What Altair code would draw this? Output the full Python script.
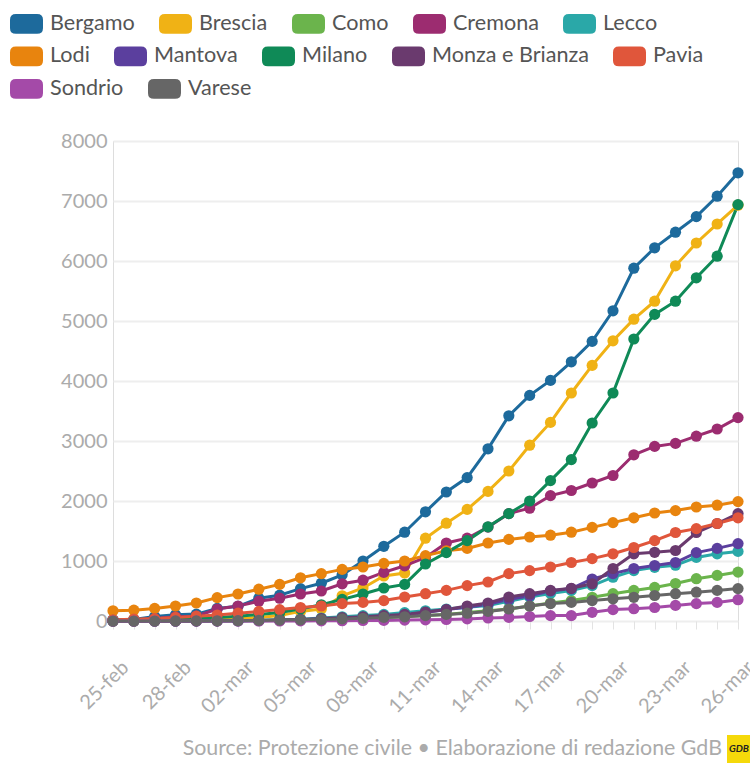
import altair as alt
import pandas as pd

dates = ["25-feb", "26-feb", "27-feb", "28-feb", "29-feb",
         "01-mar", "02-mar", "03-mar", "04-mar", "05-mar", "06-mar", "07-mar",
         "08-mar", "09-mar", "10-mar", "11-mar", "12-mar", "13-mar", "14-mar",
         "15-mar", "16-mar", "17-mar", "18-mar", "19-mar", "20-mar", "21-mar",
         "22-mar", "23-mar", "24-mar", "25-mar", "26-mar"]
shown_labels = ["25-feb", "28-feb", "02-mar", "05-mar", "08-mar", "11-mar",
                "14-mar", "17-mar", "20-mar", "23-mar", "26-mar"]

provinces = ["Bergamo", "Brescia", "Como", "Cremona", "Lecco", "Lodi", "Mantova",
             "Milano", "Monza e Brianza", "Pavia", "Sondrio", "Varese"]
colors = ["#1d6a9c", "#f0b215", "#6bb44c", "#9c2c70", "#2aa8a8", "#e8840e",
          "#5b3f9e", "#0f8a57", "#6a3a6e", "#e0563b", "#a44aa8", "#666666"]
# legend rows as in the reference (flow layout, 5 + 5 + 2)
legend_rows = [provinces[0:5], provinces[5:10], provinces[10:12]]

bergamo = [20, 25, 75, 105, 115, 210, 245, 380, 430, 540, 630, 770, 1000, 1245, 1480, 1820,
           2150, 2390, 2870, 3420, 3760, 4010, 4320, 4660, 5170, 5880, 6220, 6480, 6740, 7080, 7470]
brescia = [0, 0, 5, 10, 15, 25, 35, 60, 90, 160, 200, 420, 550, 750, 800, 1380,
           1630, 1860, 2160, 2500, 2930, 3310, 3800, 4260, 4670, 5030, 5330, 5920, 6300, 6617, 6930]
como = [0, 0, 1, 2, 3, 5, 8, 10, 15, 20, 25, 35, 45, 55, 70, 90,
        110, 140, 170, 200, 250, 300, 340, 395, 455, 510, 560, 625, 705, 760, 815]
cremona = [10, 15, 40, 70, 80, 200, 250, 330, 380, 450, 500, 620, 680, 810, 920, 1060,
           1300, 1380, 1565, 1790, 1880, 2090, 2175, 2300, 2425, 2770, 2910, 2960, 3080, 3200, 3390]
lecco = [0, 0, 1, 1, 2, 3, 5, 10, 20, 30, 50, 70, 90, 110, 140, 170,
         200, 230, 260, 330, 400, 460, 510, 590, 730, 840, 895, 930, 1060, 1120, 1160]
lodi = [170, 180, 210, 250, 300, 390, 450, 530, 610, 720, 790, 860, 900, 960, 1000, 1090,
        1170, 1210, 1300, 1360, 1400, 1430, 1480, 1560, 1640, 1720, 1800, 1840, 1900, 1930, 1990]
mantova = [0, 0, 0, 0, 1, 2, 3, 5, 10, 15, 25, 40, 60, 80, 100, 140,
           190, 230, 280, 360, 420, 500, 540, 700, 790, 875, 925, 975, 1140, 1210, 1290]
milano = [10, 15, 20, 30, 45, 60, 80, 110, 140, 200, 270, 360, 450, 550, 610, 950,
          1140, 1340, 1570, 1790, 2000, 2340, 2690, 3300, 3800, 4700, 5110, 5330, 5720, 6080, 6940]
monza = [0, 0, 1, 1, 2, 3, 5, 10, 15, 25, 40, 55, 70, 90, 110, 150,
         190, 250, 300, 400, 455, 510, 545, 620, 875, 1120, 1145, 1175, 1475, 1625, 1790]
pavia = [20, 30, 40, 60, 80, 100, 130, 160, 190, 225, 250, 290, 310, 340, 400, 455,
         510, 590, 650, 790, 840, 900, 975, 1040, 1120, 1225, 1340, 1475, 1540, 1625, 1720]
sondrio = [0, 0, 0, 0, 0, 0, 0, 1, 1, 2, 3, 5, 8, 10, 15, 20,
           25, 35, 50, 60, 75, 90, 90, 145, 190, 205, 225, 260, 290, 310, 355]
varese = [0, 0, 0, 1, 2, 3, 5, 10, 15, 20, 25, 35, 45, 60, 70, 90,
          110, 130, 160, 200, 250, 290, 310, 340, 370, 395, 425, 455, 480, 510, 540]

series = [bergamo, brescia, como, cremona, lecco, lodi, mantova, milano,
          monza, pavia, sondrio, varese]

rows = []
for prov, vals in zip(provinces, series):
    for d, v in zip(dates, vals):
        rows.append({"data": d, "provincia": prov, "casi": v})
df = pd.DataFrame(rows)

FONT = "Lato"
label_list = "[" + ",".join("'" + s + "'" for s in shown_labels) + "]"

x_enc = alt.X(
    "data:O", sort=dates, scale=alt.Scale(padding=0),
    axis=alt.Axis(title=None, labelAngle=-45, labelAlign="right", labelBaseline="top",
                  labelExpr="indexof(" + label_list + ", datum.value) >= 0 ? datum.value : ''",
                  labelOverlap=False, domain=False, grid=False, ticks=True,
                  tickColor="#e3e3e3", tickSize=8, tickWidth=1,
                  labelColor="#ababab", labelFontSize=20, labelFont=FONT,
                  labelPadding=28, labelOffset=5),
)
y_enc = alt.Y(
    "casi:Q", scale=alt.Scale(domain=[0, 8000], nice=False),
    axis=alt.Axis(title=None, values=list(range(0, 8001, 1000)), format="d",
                  domain=False, ticks=False,
                  gridColor="#eeeeee", gridWidth=2, labelColor="#ababab",
                  labelFontSize=20, labelFont=FONT, labelPadding=6),
)

rounded = ("M-0.64,-0.6 L0.64,-0.6 Q1,-0.6 1,-0.24 L1,0.24 Q1,0.6 0.64,0.6 "
           "L-0.64,0.6 Q-1,0.6 -1,0.24 L-1,-0.24 Q-1,-0.6 -0.64,-0.6 Z")

lines = alt.Chart(df).mark_line(strokeWidth=3).encode(
    x=x_enc, y=y_enc,
    color=alt.Color("provincia:N", scale=alt.Scale(domain=provinces, range=colors), legend=None),
)

point_layers = []
for k, group in enumerate(legend_rows):
    grp_colors = [colors[provinces.index(p)] for p in group]
    layer = alt.Chart(df[df["provincia"].isin(group)]).mark_circle(size=125, opacity=1).encode(
        x=x_enc, y=y_enc,
        color=alt.Color("provincia:N", scale=alt.Scale(domain=group, range=grp_colors),
                        legend=alt.Legend(title=None, orient="none", legendX=-103,
                                          legendY=-134 + 32.5 * k, direction="horizontal",
                                          symbolType=rounded, symbolSize=1089, symbolStrokeWidth=0,
                                          symbolOpacity=1, labelFont=FONT, labelFontSize=21.6,
                                          labelColor="#555555", labelOffset=7, columnPadding=24,
                                          labelLimit=300)),
    )
    point_layers.append(layer)

src = alt.Chart(pd.DataFrame({"t": ["Source: Protezione civile \u2022 Elaborazione di redazione GdB"]})).mark_text(
    align="right", baseline="alphabetic", fontSize=21.4, font=FONT, color="#ababab"
).encode(x=alt.value(609), y=alt.value(614), text="t:N")

logo = alt.Chart(pd.DataFrame({"t": ["GdB"]})).mark_rect(color="#f5d90a").encode(
    x=alt.value(614), x2=alt.value(660), y=alt.value(594), y2=alt.value(640)
)
logo_txt = alt.Chart(pd.DataFrame({"t": ["GDB"]})).mark_text(
    align="left", baseline="middle", fontSize=10, font=FONT, fontWeight="bold",
    fontStyle="italic", color="#222222"
).encode(x=alt.value(616), y=alt.value(608), text="t:N")

chart = alt.layer(lines, *point_layers, src, logo, logo_txt).resolve_scale(
    color="independent"
).resolve_legend(
    color="independent"
).properties(
    width=625, height=480,
    padding={"left": 113, "top": 141, "right": 12, "bottom": 142},
    autosize=alt.AutoSizeParams(type="none"),
).configure_view(stroke=None).configure(background="white")

chart.save("out.html", embed_options={"renderer": "svg", "actions": False})
